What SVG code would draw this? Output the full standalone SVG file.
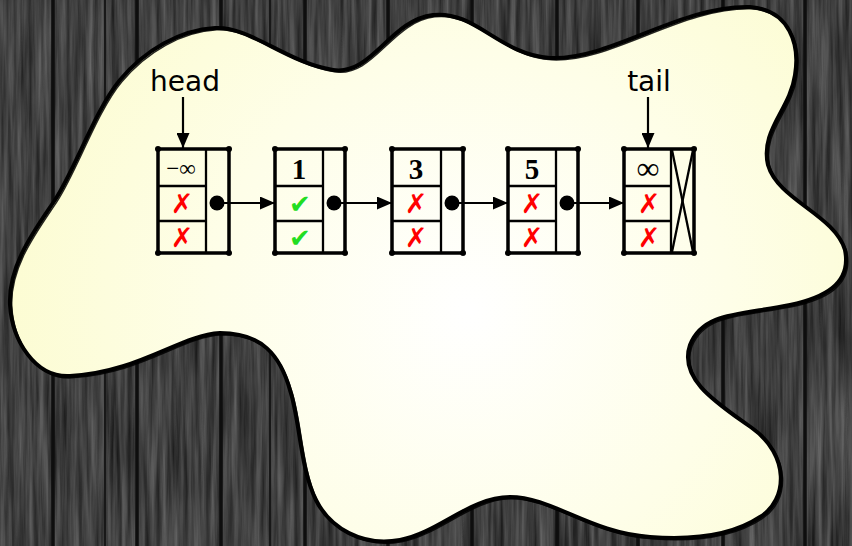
<svg xmlns="http://www.w3.org/2000/svg" width="852" height="546" viewBox="0 0 852 546">
<defs>
<filter id="woodgrain" x="0" y="0" width="100%" height="100%" color-interpolation-filters="sRGB">
<feTurbulence type="fractalNoise" baseFrequency="0.18 0.008" numOctaves="4" seed="7"/>
<feColorMatrix type="matrix" values="0.38 0 0 0 0.06  0.38 0 0 0 0.06  0.38 0 0 0 0.06  0 0 0 0 1"/>
</filter>
<radialGradient id="paper" cx="470" cy="310" r="470" gradientUnits="userSpaceOnUse">
<stop offset="0" stop-color="#ffffff"/>
<stop offset="0.55" stop-color="#fefee8"/>
<stop offset="1" stop-color="#fcfcd2"/>
</radialGradient>
<marker id="arrow" viewBox="0 0 15 13" refX="15" refY="6.5" markerWidth="15" markerHeight="13" markerUnits="userSpaceOnUse" orient="auto">
<path d="M0,0 L15,6.5 L0,13 z" fill="#000"/>
</marker>
<style>
.plank{stroke:#0e0e0e;stroke-width:3.5}
.plank2{stroke:#181818;stroke-width:2}
.box{fill:none;stroke:#000;stroke-width:3.5;stroke-linejoin:round}
.div{stroke:#000;stroke-width:2.3}
.corner{fill:#000}
.lbl{font-family:"DejaVu Sans",sans-serif;font-size:28px;fill:#000;text-anchor:middle}
.val{font-family:"Liberation Serif",serif;font-size:29px;font-weight:bold;fill:#000;text-anchor:middle}
.inf{font-family:"Liberation Serif",serif;fill:#000;text-anchor:middle}
.no{font-family:"DejaVu Sans",sans-serif;font-size:27px;font-weight:bold;fill:#ff0000;text-anchor:middle}
.yes{font-family:"DejaVu Sans",sans-serif;font-size:26px;font-weight:bold;fill:#22dd22;text-anchor:middle}
.link{stroke:#000;stroke-width:2.2;fill:none}
</style>
</defs>

<g id="background">
<rect x="0" y="0" width="852" height="546" fill="#3a3a3a"/>
<rect x="0" y="0" width="852" height="546" filter="url(#woodgrain)"/>
<line class="plank" x1="53" y1="0" x2="53" y2="546"/>
<line class="plank2" x1="105" y1="0" x2="105" y2="546"/>
<line class="plank" x1="137" y1="0" x2="137" y2="546"/>
<line class="plank" x1="221" y1="0" x2="221" y2="546"/>
<line class="plank2" x1="270" y1="0" x2="270" y2="546"/>
<line class="plank" x1="305" y1="0" x2="305" y2="546"/>
<line class="plank" x1="388" y1="0" x2="388" y2="546"/>
<line class="plank" x1="472" y1="0" x2="472" y2="546"/>
<line class="plank" x1="557" y1="0" x2="557" y2="546"/>
<line class="plank" x1="638" y1="0" x2="638" y2="546"/>
<line class="plank" x1="723" y1="0" x2="723" y2="546"/>
<line class="plank" x1="805" y1="0" x2="805" y2="546"/>
</g>

<g id="blob">
<path d="M215,28 C250,26 285,62 333,70 C372,76 390,20 433,15 C475,10 500,55 550,58 C610,61 680,5 750,7 C790,10 800,45 795,75 C790,110 760,130 768,165 C778,200 835,215 845,250 C852,285 822,298 790,305 C740,315 703,312 690,345 C678,380 720,405 752,428 C790,455 788,500 760,517 C730,537 690,540 650,537 C590,533 552,497 510,497 C470,497 440,532 400,540 C362,547 330,528 316,500 C300,468 300,420 290,390 C280,355 262,333 220,333 C180,335 140,372 70,376 C35,378 12,340 10,305 C8,265 35,230 55,200 C75,170 95,110 120,80 C145,50 180,30 215,28 Z" fill="url(#paper)" stroke="#000" stroke-width="4"/>
<path d="M215,28 C250,26 285,62 333,70 C372,76 390,20 433,15 C475,10 500,55 550,58 C610,61 680,5 750,7 C790,10 800,45 795,75 C790,110 760,130 768,165 C778,200 835,215 845,250 C852,285 822,298 790,305 C740,315 703,312 690,345 C678,380 720,405 752,428 C790,455 788,500 760,517 C730,537 690,540 650,537 C590,533 552,497 510,497 C470,497 440,532 400,540 C362,547 330,528 316,500 C300,468 300,420 290,390 C280,355 262,333 220,333 C180,335 140,372 70,376 C35,378 12,340 10,305 C8,265 35,230 55,200 C75,170 95,110 120,80 C145,50 180,30 215,28 Z" fill="none" stroke="#000" stroke-width="1.5" stroke-opacity="0.85" transform="translate(1.8,1.8)"/>
</g>

<g id="head-label">
<text class="lbl" x="185" y="91">head</text>
</g>
<g id="tail-label">
<text class="lbl" x="649" y="91">tail</text>
</g>

<g id="node-head">
<rect class="box" x="158" y="149" width="71" height="104"/>
<line class="div" x1="206" y1="149" x2="206" y2="253"/>
<line class="div" x1="158" y1="186" x2="206" y2="186"/>
<line class="div" x1="158" y1="221" x2="206" y2="221"/>
<circle class="corner" cx="158" cy="149" r="3"/><circle class="corner" cx="229" cy="149" r="3"/><circle class="corner" cx="158" cy="253" r="3"/><circle class="corner" cx="229" cy="253" r="3"/>
<text class="inf" x="181" y="176" font-size="23">−∞</text>
<text class="no" x="182" y="213">✗</text>
<text class="no" x="182" y="247">✗</text>
<circle cx="217" cy="203" r="7.5" fill="#000"/>
</g>

<g id="node-1">
<rect class="box" x="275" y="149" width="70" height="104"/>
<line class="div" x1="323" y1="149" x2="323" y2="253"/>
<line class="div" x1="275" y1="186" x2="323" y2="186"/>
<line class="div" x1="275" y1="221" x2="323" y2="221"/>
<circle class="corner" cx="275" cy="149" r="3"/><circle class="corner" cx="345" cy="149" r="3"/><circle class="corner" cx="275" cy="253" r="3"/><circle class="corner" cx="345" cy="253" r="3"/>
<text class="val" x="299" y="179">1</text>
<text class="yes" x="300" y="213">✔</text>
<text class="yes" x="300" y="247">✔</text>
<circle cx="334" cy="203" r="7.5" fill="#000"/>
</g>

<g id="node-3">
<rect class="box" x="392" y="149" width="71" height="104"/>
<line class="div" x1="441" y1="149" x2="441" y2="253"/>
<line class="div" x1="392" y1="186" x2="441" y2="186"/>
<line class="div" x1="392" y1="221" x2="441" y2="221"/>
<circle class="corner" cx="392" cy="149" r="3"/><circle class="corner" cx="463" cy="149" r="3"/><circle class="corner" cx="392" cy="253" r="3"/><circle class="corner" cx="463" cy="253" r="3"/>
<text class="val" x="416" y="179">3</text>
<text class="no" x="416" y="213">✗</text>
<text class="no" x="416" y="247">✗</text>
<circle cx="452" cy="203" r="7.5" fill="#000"/>
</g>

<g id="node-5">
<rect class="box" x="508" y="149" width="70" height="104"/>
<line class="div" x1="556" y1="149" x2="556" y2="253"/>
<line class="div" x1="508" y1="186" x2="556" y2="186"/>
<line class="div" x1="508" y1="221" x2="556" y2="221"/>
<circle class="corner" cx="508" cy="149" r="3"/><circle class="corner" cx="578" cy="149" r="3"/><circle class="corner" cx="508" cy="253" r="3"/><circle class="corner" cx="578" cy="253" r="3"/>
<text class="val" x="532" y="179">5</text>
<text class="no" x="532" y="213">✗</text>
<text class="no" x="532" y="247">✗</text>
<circle cx="567" cy="203" r="7.5" fill="#000"/>
</g>

<g id="node-tail">
<rect class="box" x="624" y="149" width="70" height="104"/>
<line class="div" x1="671" y1="149" x2="671" y2="253"/>
<line class="div" x1="624" y1="186" x2="671" y2="186"/>
<line class="div" x1="624" y1="221" x2="671" y2="221"/>
<line class="div" x1="672" y1="150" x2="693" y2="252"/>
<line class="div" x1="693" y1="150" x2="672" y2="252"/>
<circle class="corner" cx="624" cy="149" r="3"/><circle class="corner" cx="694" cy="149" r="3"/><circle class="corner" cx="624" cy="253" r="3"/><circle class="corner" cx="694" cy="253" r="3"/>
<text class="inf" x="648" y="179" font-size="32">∞</text>
<text class="no" x="649" y="213">✗</text>
<text class="no" x="649" y="247">✗</text>
</g>

<g id="connectors">
<line class="link" x1="183" y1="97" x2="183" y2="148" marker-end="url(#arrow)"/>
<line class="link" x1="648" y1="97" x2="648" y2="148" marker-end="url(#arrow)"/>
<line class="link" x1="217" y1="203" x2="275" y2="203" marker-end="url(#arrow)"/>
<line class="link" x1="334" y1="203" x2="392" y2="203" marker-end="url(#arrow)"/>
<line class="link" x1="452" y1="203" x2="508" y2="203" marker-end="url(#arrow)"/>
<line class="link" x1="567" y1="203" x2="624" y2="203" marker-end="url(#arrow)"/>
</g>
</svg>
